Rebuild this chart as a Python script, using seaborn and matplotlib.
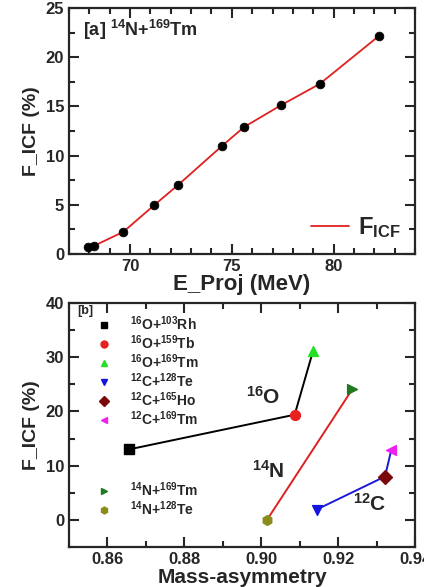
import numpy as np
import pandas as pd
import seaborn as sns
import matplotlib.pyplot as plt
from matplotlib.ticker import MultipleLocator
from matplotlib.lines import Line2D

sns.set_style('ticks')
plt.rcParams['font.family'] = ['Liberation Sans', 'DejaVu Sans']
plt.rcParams['font.weight'] = 'bold'
plt.rcParams['mathtext.fontset'] = 'custom'
plt.rcParams['mathtext.rm'] = 'Liberation Sans:bold'
plt.rcParams['mathtext.bf'] = 'Liberation Sans:bold'
plt.rcParams['mathtext.it'] = 'Liberation Sans:bold'

# panel a: 14N+169Tm
e_proj = [67.95, 68.25, 69.67, 71.18, 72.38, 74.5, 75.6, 77.4, 79.33, 82.25]
f_icf_a = [0.7, 0.85, 2.25, 4.95, 7.05, 10.95, 12.9, 15.1, 17.3, 22.2]

# panel b: mass asymmetry systematics
labels_b = [r'$^{16}$O+$^{103}$Rh', r'$^{16}$O+$^{159}$Tb', r'$^{16}$O+$^{169}$Tm',
            r'$^{12}$C+$^{128}$Te', r'$^{12}$C+$^{165}$Ho', r'$^{12}$C+$^{169}$Tm',
            r'$^{14}$N+$^{169}$Tm', r'$^{14}$N+$^{128}$Te']
mass_asym = [0.8656, 0.9087, 0.9135, 0.9144, 0.9322, 0.9338, 0.9237, 0.9015]
f_icf_b = [13.0, 19.4, 31.2, 1.9, 8.0, 12.8, 24.1, 0.0]
markers_b = ['s', 'o', '^', 'v', 'D', '<', '>', 'h']
colors_b = ['black', '#e82020', '#22e022', '#1515e0', '#7a0808', '#ee22ee', '#1f7a1f', '#8c8c1c']
groups = {'16O': [0, 1, 2], '14N': [7, 6], '12C': [3, 4, 5]}
group_colors = {'16O': 'black', '14N': '#e02020', '12C': '#1a1ad8'}

fig = plt.figure(figsize=(4.24, 5.87), dpi=100)
W, H = 424, 587
ax1 = fig.add_axes([69 / W, 1 - 254 / H, 346 / W, 246 / H])
ax2 = fig.add_axes([69 / W, 1 - 547 / H, 346 / W, 244 / H])

df_a = pd.DataFrame({'E': e_proj, 'F': f_icf_a})
sns.lineplot(data=df_a, x='E', y='F', ax=ax1, color='#e02020', lw=1.3, label=r'F$_{\rm ICF}$')
sns.scatterplot(data=df_a, x='E', y='F', ax=ax1, color='black', s=40, edgecolor='black', zorder=3, legend=False)
ax1.set_xlim(67, 84)
ax1.set_ylim(0, 25)
ax1.xaxis.set_major_locator(MultipleLocator(5))
ax1.xaxis.set_minor_locator(MultipleLocator(1))
ax1.yaxis.set_major_locator(MultipleLocator(5))
ax1.yaxis.set_minor_locator(MultipleLocator(2.5))
ax1.set_xlabel('E_Proj (MeV)', fontsize=16, fontweight='bold', labelpad=0)
ax1.set_ylabel('F_ICF (%)', fontsize=14, fontweight='bold', labelpad=4)
ax1.text(0.04, 0.885, r'[a] $^{14}$N+$^{169}$Tm', transform=ax1.transAxes, fontsize=13, fontweight='bold')
leg = ax1.legend(loc='lower right', frameon=False, fontsize=17, handlelength=1.6, borderaxespad=0.2,
                 handletextpad=0.4)

df_b = pd.DataFrame({'label': labels_b, 'x': mass_asym, 'y': f_icf_b})
for g, idx in groups.items():
    sub = df_b.iloc[idx]
    sns.lineplot(data=sub, x='x', y='y', ax=ax2, sort=False, color=group_colors[g], lw=1.4, estimator=None)
for i in range(len(labels_b)):
    ax2.scatter(mass_asym[i], f_icf_b[i], marker=markers_b[i], color=colors_b[i], s=50, zorder=3)

ax2.set_xlim(0.85, 0.94)
ax2.set_ylim(-5, 40)
ax2.xaxis.set_major_locator(MultipleLocator(0.02))
ax2.xaxis.set_minor_locator(MultipleLocator(0.01))
ax2.yaxis.set_major_locator(MultipleLocator(10))
ax2.yaxis.set_minor_locator(MultipleLocator(5))
ax2.xaxis.set_major_formatter(plt.FormatStrFormatter('%.2f'))
ax2.set_xlabel('Mass-asymmetry', fontsize=15, fontweight='bold', labelpad=1)
ax2.set_ylabel('F_ICF (%)', fontsize=14, fontweight='bold', labelpad=4)
ax2.text(0.025, 0.955, '[b]', transform=ax2.transAxes, fontsize=9, fontweight='bold')
ax2.text(0.9005, 22.7, r'$^{16}$O', fontsize=15, fontweight='bold', ha='center', va='center')
ax2.text(0.9019, 9.1, r'$^{14}$N', fontsize=15, fontweight='bold', ha='center', va='center')
ax2.text(0.9282, 3.0, r'$^{12}$C', fontsize=15, fontweight='bold', ha='center', va='center')

handles = [Line2D([], [], ls='', marker=markers_b[i], color=colors_b[i], markersize=5) for i in range(8)]
leg1 = ax2.legend(handles[:6], labels_b[:6], loc='upper left', bbox_to_anchor=(0.045, 0.975),
                  frameon=False, fontsize=10, handletextpad=0.9, labelspacing=0.02, borderaxespad=0)
ax2.add_artist(leg1)
ax2.legend(handles[6:], labels_b[6:], loc='upper left', bbox_to_anchor=(0.045, 0.295),
           frameon=False, fontsize=10, handletextpad=0.9, labelspacing=0.02, borderaxespad=0)

for ax in (ax1, ax2):
    ax.tick_params(which='both', direction='in', top=True, right=True, width=1.5, labelsize=12)
    ax.tick_params(which='major', length=7)
    ax.tick_params(which='minor', length=4)
    for lab in ax.get_xticklabels() + ax.get_yticklabels():
        lab.set_fontweight('bold')
    for sp in ax.spines.values():
        sp.set_linewidth(1.6)

fig.savefig('out.png', dpi=100)
